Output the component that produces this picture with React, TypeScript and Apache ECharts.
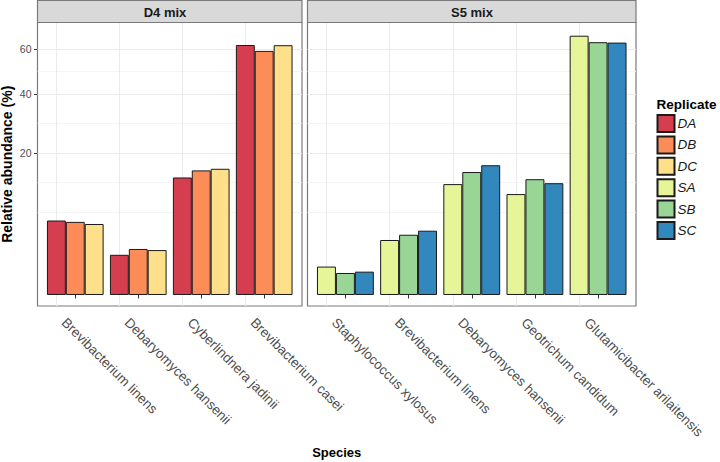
import React, { useEffect, useRef } from "react";
import * as echarts from "echarts";

// ---------- data ----------
const replicatesD4 = ["DA", "DB", "DC"];
const replicatesS5 = ["SA", "SB", "SC"];
const speciesD4 = [
  "Brevibacterium linens",
  "Debaryomyces hansenii",
  "Cyberlindnera jadinii",
  "Brevibacterium casei",
];
const speciesS5 = [
  "Staphylococcus xylosus",
  "Brevibacterium linens",
  "Debaryomyces hansenii",
  "Geotrichum candidum",
  "Glutamicibacter arilaitensis",
];
const valuesDA = [5.5, 1.6, 13.7, 62.0];
const valuesDB = [5.3, 2.1, 15.4, 59.1];
const valuesDC = [5.0, 2.0, 15.8, 61.9];
const valuesSA = [0.8, 3.0, 12.2, 10.1, 66.7];
const valuesSB = [0.48, 3.6, 15.0, 13.3, 63.4];
const valuesSC = [0.54, 4.1, 16.7, 12.4, 63.2];
const yTickLabels = [20, 40, 60];
const panelTitles = ["D4 mix", "S5 mix"];

const palette: Record<string, string> = {
  DA: "#d53e4f",
  DB: "#fc8d59",
  DC: "#fee08b",
  SA: "#e6f598",
  SB: "#99d594",
  SC: "#3288bd",
};

const FONT = "Liberation Sans";

export default function App() {
  const ref = useRef<HTMLDivElement>(null);

  useEffect(() => {
    if (!ref.current) return;
    const chart = echarts.init(ref.current, undefined, { renderer: "svg" });

    // layout (pixels)
    const top = 22.5;
    const bottom = 306;
    const panels = [
      { left: 37.5, right: 302, labelX: 165, species: speciesD4, reps: replicatesD4, vals: [valuesDA, valuesDB, valuesDC] },
      { left: 307.5, right: 636, labelX: 472, species: speciesS5, reps: replicatesS5, vals: [valuesSA, valuesSB, valuesSC] },
    ];

    // sqrt-transformed axis gridlines (ggplot style)
    const sq = yTickLabels.map(Math.sqrt);
    const bd = sq[1] - sq[0];
    const ext = [sq[0] - bd, ...sq];
    const minors: number[] = [ext[0]];
    for (let i = 0; i < ext.length - 1; i++) minors.push((ext[i] + ext[i + 1]) / 2);
    const yMin = -0.347;
    const yMax = 8.583;

    const grids: any[] = [];
    const xAxes: any[] = [];
    const yAxes: any[] = [];
    const series: any[] = [];
    const graphics: any[] = [];

    panels.forEach((p, g) => {
      grids.push({
        left: p.left,
        top: top,
        width: p.right - p.left,
        height: bottom - top,
        show: true,
        backgroundColor: "#ffffff",
        borderColor: "#7a7a7a",
        borderWidth: 1.2,
        containLabel: false,
      });
      const cats = p.species.map((_, i) => i + 1);
      xAxes.push({
        type: "value",
        gridIndex: g,
        min: 0.4,
        max: p.species.length + 0.6,
        axisLine: { show: false },
        splitLine: { show: false },
        axisTick: {
          show: true,
          customValues: cats,
          length: 3.5,
          lineStyle: { color: "#333333", width: 1 },
        },
        axisLabel: {
          show: true,
          customValues: cats,
          formatter: (v: number) => p.species[Math.round(v) - 1] ?? "",
          rotate: -45,
          align: "left",
          verticalAlign: "top",
          padding: [9, 0, 0, 0],
          margin: 3,
          fontFamily: FONT,
          fontSize: 13.5,
          color: "#4d4d4d",
        },
      });
      yAxes.push({
        type: "value",
        gridIndex: g,
        min: yMin,
        max: yMax,
        axisLine: { show: false },
        splitLine: { show: false },
        axisTick: {
          show: g === 0,
          customValues: sq,
          length: 3.5,
          lineStyle: { color: "#333333", width: 1 },
        },
        axisLabel: {
          show: g === 0,
          customValues: sq,
          formatter: (v: number) => String(Math.round(v * v)),
          margin: 6,
          fontFamily: FONT,
          fontSize: 10.5,
          color: "#4d4d4d",
        },
      });

      p.reps.forEach((r, k) => {
        const s: any = {
          name: r,
          type: "bar",
          xAxisIndex: g,
          yAxisIndex: g,
          barWidth: "30%",
          barGap: "0%",
          z: 3,
          itemStyle: { color: palette[r], borderColor: "#1a1a1a", borderWidth: 1 },
          emphasis: { disabled: true },
          data: p.vals[k].map((v, i) => [i + 1, Math.sqrt(v)]),
        };
        if (k === 0) {
          s.markLine = {
            silent: true,
            z: 1,
            symbol: ["none", "none"],
            label: { show: false },
            emphasis: { disabled: true },
            animation: false,
            data: [
              ...sq.map((v) => ({ yAxis: v, lineStyle: { color: "#ebebeb", width: 1.1, type: "solid" } })),
              ...minors.map((v) => ({ yAxis: v, lineStyle: { color: "#f2f2f2", width: 0.8, type: "solid" } })),
              ...cats.map((c) => ({ xAxis: c, lineStyle: { color: "#ebebeb", width: 1.1, type: "solid" } })),
            ],
          };
        }
        series.push(s);
      });

      // facet strip
      graphics.push({
        type: "rect",
        shape: { x: p.left, y: 0.5, width: p.right - p.left, height: top - 0.5 },
        style: { fill: "#d9d9d9", stroke: "#7a7a7a", lineWidth: 1.2 },
        z: 10,
      });
      graphics.push({
        type: "text",
        x: p.labelX,
        y: 12,
        style: {
          text: panelTitles[g],
          font: `bold 13px "${FONT}"`,
          fill: "#1a1a1a",
          align: "center",
          verticalAlign: "middle",
          textAlign: "center",
          textVerticalAlign: "middle",
        },
        z: 11,
      });
    });

    // axis titles & legend title
    graphics.push({
      type: "text",
      x: (panels[0].left + panels[1].right) / 2,
      y: 452,
      style: {
        text: "Species",
        font: `bold 13px "${FONT}"`,
        fill: "#000000",
        align: "center",
        verticalAlign: "middle",
        textAlign: "center",
        textVerticalAlign: "middle",
      },
    });
    graphics.push({
      type: "text",
      x: 7,
      y: (top + bottom) / 2,
      rotation: Math.PI / 2,
      style: {
        text: "Relative abundance (%)",
        font: `bold 14px "${FONT}"`,
        fill: "#000000",
        align: "center",
        verticalAlign: "middle",
        textAlign: "center",
        textVerticalAlign: "middle",
      },
    });
    graphics.push({
      type: "text",
      x: 656.5,
      y: 104,
      style: {
        text: "Replicate",
        font: `bold 13.5px "${FONT}"`,
        fill: "#000000",
        align: "left",
        verticalAlign: "middle",
        textAlign: "left",
        textVerticalAlign: "middle",
      },
    });

    chart.setOption({
      animation: false,
      grid: grids,
      xAxis: xAxes,
      yAxis: yAxes,
      series,
      graphic: graphics,
      legend: {
        data: [...replicatesD4, ...replicatesS5],
        orient: "vertical",
        left: 656.5,
        top: 114,
        padding: 0,
        itemWidth: 17,
        itemHeight: 17,
        itemGap: 2.4,
        icon: "rect",
        selectedMode: false,
        textStyle: {
          fontFamily: FONT,
          fontStyle: "italic",
          fontSize: 13.5,
          color: "#1a1a1a",
          padding: [0, 0, 0, -2],
        },
      },
    });

    return () => chart.dispose();
  }, []);

  return (
    <div
      ref={ref}
      style={{ position: "fixed", left: 0, top: 0, width: 720, height: 462, background: "#ffffff" }}
    />
  );
}
